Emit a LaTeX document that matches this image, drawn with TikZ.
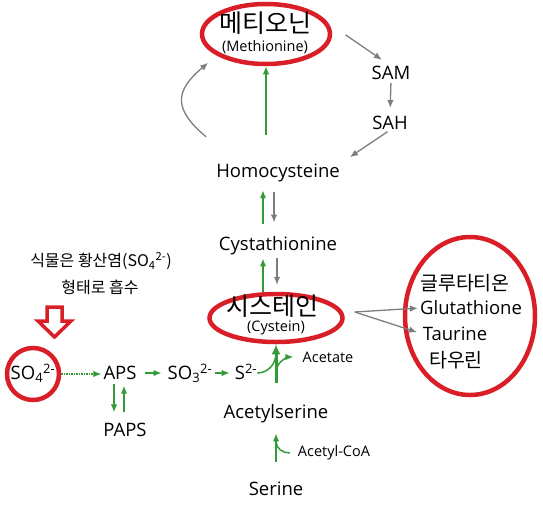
\documentclass[tikz,border=0pt]{standalone}
\usepackage{fontspec}
\setmainfont{Open Sans}
\newfontfamily\krfont{Noto Sans CJK KR}
\usetikzlibrary{arrows.meta,shapes.geometric}
\definecolor{ringred}{RGB}{218,30,40}
\definecolor{arrgreen}{RGB}{50,155,55}
\definecolor{arrgray}{RGB}{125,125,125}
\tikzset{
  lbl/.style={inner sep=0pt, font=\fontsize{18.5}{20}\selectfont},
  row/.style={lbl, text height=13pt, text depth=0pt},
  sml/.style={inner sep=0pt, font=\fontsize{14.5}{16}\selectfont},
  bigkr/.style={inner sep=0pt, font=\krfont\fontsize{25}{28}\selectfont},
  krlbl/.style={inner sep=0pt, font=\krfont\fontsize{19.5}{22}\selectfont},
  note/.style={inner sep=0pt, font=\krfont\fontsize{16}{18}\selectfont},
  ring/.style={ellipse, draw=ringred, line width=4.5pt, inner sep=0pt},
  gry/.style={->, draw=arrgray, line width=1.3pt},
  grn/.style={->, draw=arrgreen, line width=1.5pt},
  stem/.style={-{Latex[length=10pt,width=9pt]}, draw=arrgreen, line width=3pt}
}
\begin{document}
\begin{tikzpicture}[x=1pt, y=-1pt, >={Latex[length=8pt,width=6.5pt]}]
  \useasboundingbox (0,0) rectangle (543,512);

  % Methionine cycle
  \node[ring, minimum width=128pt, minimum height=60pt] (metRing) at (266,34) {};
  \node[bigkr] (met) at (265,23) {메티오닌};
  \node[sml] (metEn) at (265,47) {(Methionine)};
  \node[lbl] (sam) at (391,73) {SAM};
  \node[lbl] (sah) at (390,123) {SAH};
  \node[lbl] (homo) at (278,173) {Homocysteine};
  \node[lbl] (cysta) at (278,246) {Cystathionine};

  \draw[gry, shorten <=21pt, shorten >=11pt] (metRing.10) -- (sam.north);
  \draw[gry, shorten <=3pt, shorten >=8pt] (sam.south) -- (sah.north);
  \draw[gry, shorten <=3pt, shorten >=12pt] (sah.south) -- (homo.north east);
  \draw[grn, shorten <=29pt] (homo.north -| metRing.south) -- (metRing.south);
  \draw[gry] ([xshift=-10pt,yshift=27pt]homo.north west)
    to[out=140, in=220, looseness=1.5] ([xshift=-11pt,yshift=-6pt]metRing.south west);

  % Homocysteine <-> Cystathionine <-> Cysteine
  \draw[grn, shorten <=13pt, shorten >=8pt] ([xshift=-15pt]cysta.north) -- ([xshift=-15pt]homo.south);
  \draw[gry, shorten <=10pt, shorten >=14pt] ([xshift=-4pt]homo.south) -- ([xshift=-4pt]cysta.north);

  \node[ring, minimum width=133pt, minimum height=48pt] (cysRing) at (276,318) {};
  \node[bigkr] (cys) at (272,306) {시스테인};
  \node[sml] (cysEn) at (276,328) {(Cystein)};

  \draw[grn, shorten >=3pt] ([xshift=-13pt]cysRing.north) -- ([xshift=-13pt]cysRing.north |- cysta.south);
  \draw[gry, shorten <=3pt, shorten >=7pt] ([xshift=1pt]cysRing.north |- cysta.south) -- ([xshift=1pt]cysRing.north);

  % Glutathione, Taurine
  \node[ring, minimum width=130pt, minimum height=158pt] (gluRing) at (470,316) {};
  \node[krlbl] (gluKr) at (465,283) {글루타티온};
  \node[lbl] (gluEn) at (471,308) {Glutathione};
  \node[lbl] (tau) at (455,334) {Taurine};
  \node[krlbl] (tauKr) at (456,360) {타우린};

  \coordinate (split) at ([xshift=10pt,yshift=6pt]cysRing.east);
  \draw[gry, shorten >=2pt] (split) -- (gluEn.west);
  \draw[gry, shorten >=6pt] (split) -- (tau.west);

  % Sulfate uptake
  \node[note] (note1) at (101,261) {식물은 황산염(SO\textsubscript{4}\textsuperscript{2-})};
  \node[note] (note2) at (100,287) {형태로 흡수};
  \draw[ringred, line width=3.5pt, line join=miter, fill=white]
    (47,307) -- (62,307) -- (62,321) -- (71,321) -- (54.5,337) -- (38,321) -- (47,321) -- cycle;

  \node[circle, draw=ringred, line width=4.5pt, minimum size=52pt, inner sep=0pt] (so4Ring) at (33,374) {};
  \node[row] (so4) at (33,373) {SO\textsubscript{4}\textsuperscript{2-}};
  \node[row] (aps) at (120,373) {APS};
  \node[row] (so3) at (190,373) {SO\textsubscript{3}\textsuperscript{2-}};
  \node[row] (s2) at (246,373) {S\textsuperscript{2-}};
  \node[row] (paps) at (125,430) {PAPS};

  \draw[grn, densely dotted, line width=1.2pt, shorten >=2pt] (so4Ring.east) -- (so4Ring.east -| aps.west);
  \draw[grn, shorten <=8pt, shorten >=6pt] (aps.east) -- (so3.west);
  \draw[grn, shorten <=3pt, shorten >=5pt] (so3.east) -- (s2.west);
  \draw[grn, shorten <=4pt, shorten >=11pt] ([xshift=-6pt]aps.south) -- ([xshift=-6pt]aps.south |- paps.north);
  \draw[grn, shorten <=11pt, shorten >=6pt] ([xshift=4pt]aps.south |- paps.north) -- ([xshift=4pt]aps.south);

  % Serine -> Acetylserine -> Cysteine
  \node[lbl] (acsr) at (276,414) {Acetylserine};
  \node[lbl] (serine) at (276,489) {Serine};
  \node[sml] (acetate) at (328,357) {Acetate};
  \node[sml] (acoa) at (334,453) {Acetyl-CoA};

  \draw[stem, shorten <=22pt] (acsr.north -| cysRing.south) -- (cysRing.south);
  \coordinate (sJoin) at ([yshift=-9pt]cysRing.south);
  \coordinate (acBranch) at ([yshift=-27pt]cysRing.south);
  \draw[arrgreen, line width=1.5pt] (s2.east) to[out=0, in=-90] (sJoin);
  \draw[grn, shorten >=9pt] (acBranch) to[out=85, in=180] (acetate.west);

  \draw[grn, shorten <=20pt, shorten >=10pt] (serine.north) -- (acsr.south);
  \coordinate (coaJoin) at ([yshift=-18pt]acsr.south);
  \draw[arrgreen, line width=1.5pt] ([xshift=-8pt]acoa.west) to[out=180, in=-90] (coaJoin);
\end{tikzpicture}
\end{document}
